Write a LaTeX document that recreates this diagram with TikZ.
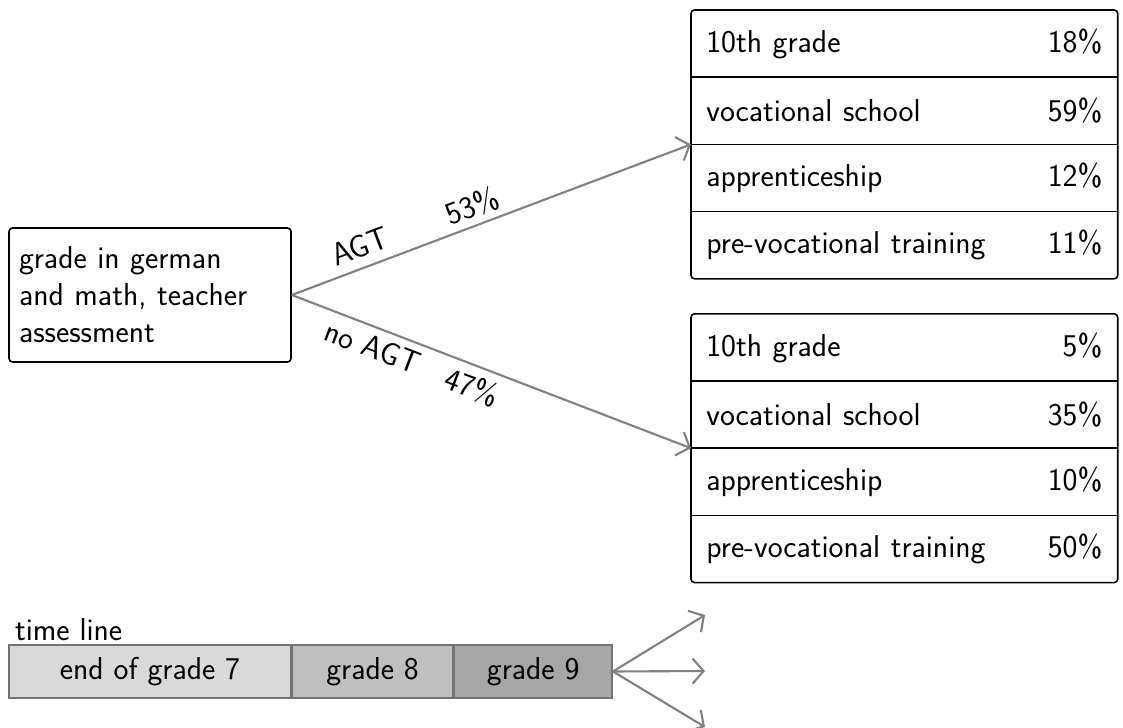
\documentclass[tikz,border=0pt]{standalone}
\usepackage{xcolor}
\usepackage{tikz}
\usetikzlibrary{shapes, arrows, arrows.meta, positioning}
\tikzstyle{start} = [rectangle, draw, rounded corners=2pt, line width=0.9pt,
    text width=5.24cm, align=left, minimum height=2.68cm, inner xsep=0.2cm]
\tikzstyle{row} = [rectangle, text width=7.92cm, minimum height=1.33cm, inner xsep=0.3cm]
\tikzstyle{cell} = [rectangle, draw=black!55, line width=0.9pt, minimum height=1.06cm, inner sep=0pt]
\tikzstyle{line} = [draw, -{Straight Barb[length=2.2mm, width=5mm]}, gray, line width=1.2pt, text=black]

\begin{document}
\begin{tikzpicture}[node distance = 0cm, auto, font=\sffamily\fontsize{18}{21}\selectfont]
      \useasboundingbox (0,0) rectangle (22.46,-14.56);
      % start
      \node [start] (grades) at (3.0,-5.9) {grade in german and math, teacher assessment};
      % AGT branch
      \node [row, anchor=north west] (agt-1) at (13.82,-0.2) {10th grade \hfill 18\%\hspace*{1.5mm}};
      \node [row, below= of agt-1] (agt-2) {vocational school \hfill 59\%\hspace*{1.5mm}};
      \node [row, below= of agt-2] (agt-3) {apprenticeship \hfill 12\%\hspace*{1.5mm}};
      \node [row, below= of agt-3] (agt-4) {pre-vocational training \hfill 11\%\hspace*{1.5mm}};
      % no AGT branch
      \node [row, below=0.7cm of agt-4] (noagt-1) {10th grade \hfill 5\%\hspace*{1.5mm}};
      \node [row, below= of noagt-1] (noagt-2) {vocational school \hfill 35\%\hspace*{1.5mm}};
      \node [row, below= of noagt-2] (noagt-3) {apprenticeship \hfill 10\%\hspace*{1.5mm}};
      \node [row, below= of noagt-3] (noagt-4) {pre-vocational training \hfill 50\%\hspace*{1.5mm}};
      % table frames
      \draw [rounded corners=2pt, line width=0.9pt] (agt-1.north west) rectangle (agt-4.south east);
      \draw [rounded corners=2pt, line width=0.9pt] (noagt-1.north west) rectangle (noagt-4.south east);
      \foreach \t in {agt, noagt} {
        \foreach \i in {1,2,3} {
          \draw [line width=0.9pt] (\t-\i.south west) -- (\t-\i.south east);
        }
      }
      % time line
      \node [cell, fill=black!15, minimum width=5.64cm] (grade-7) at (3.0,-13.43) {end of grade 7};
      \node [cell, fill=black!25, minimum width=3.2cm, right= of grade-7] (grade-8) {grade 8};
      \node [cell, fill=black!35, minimum width=3.16cm, right= of grade-8] (grade-9) {grade 9};
      \node [above right=0cm and 0.06cm of grade-7.north west, anchor=south west, inner sep=2pt] (timeline) {time line};
      \coordinate (out-1) at (14.1,-12.3);
      \coordinate (out-2) at (14.1,-13.42);
      \coordinate (out-3) at (14.1,-14.54);
      % Draw edges
      \path [line] (grades.east) -- node[pos=.19, above=2pt, sloped] {AGT} node[pos=.47, above, sloped] {53\%} (agt-2.south west);
      \path [line] (grades.east) -- node[pos=.22, below=1pt, sloped] {no AGT} node[pos=.47, below=1pt, sloped] {47\%} (noagt-2.south west);
      \path [line] (grade-9.east) -- (out-1);
      \path [line] (grade-9.east) -- (out-2);
      \path [line] (grade-9.east) -- (out-3);
  \end{tikzpicture}
\end{document}
